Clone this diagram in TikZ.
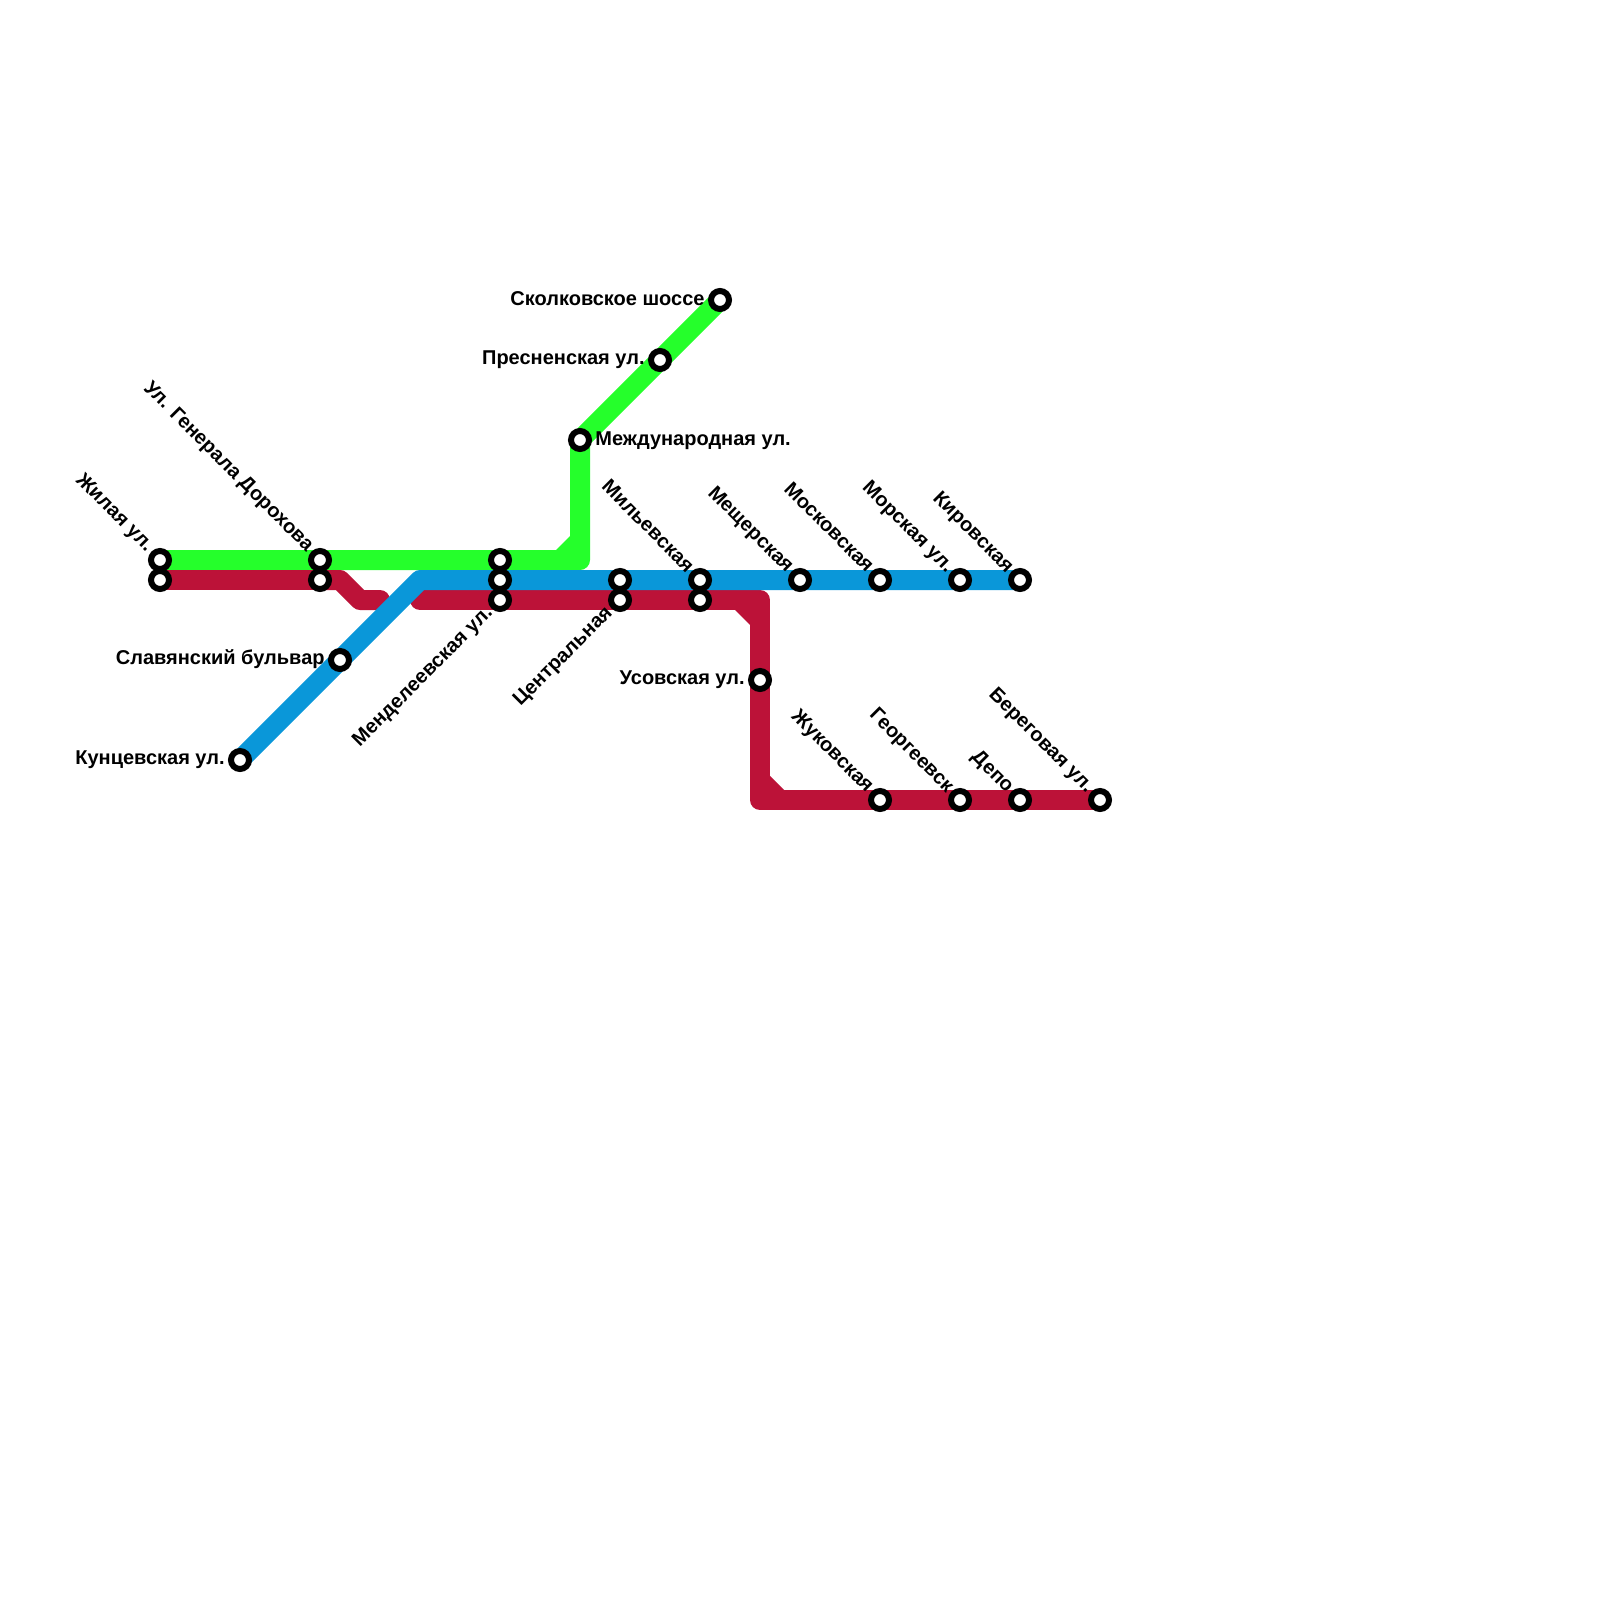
\documentclass[tikz,border=0pt]{standalone}
\usepackage{fontspec}
\setmainfont{Liberation Sans}
\tikzset{
  px/.style={x=0.5pt,y=-0.5pt},
  metro/.style={line width=10pt,line join=round},
  stn/.style={circle,draw=black,fill=white,line width=3pt,minimum size=9pt,inner sep=0pt},
  lbl/.style={font=\bfseries\fontsize{10}{11}\selectfont,inner sep=0pt,text=black,text height=7pt,text depth=2pt},
  lblL/.style={lbl,anchor=east},
  lblR/.style={lbl,anchor=west},
  lblDown/.style={lbl,anchor=east,rotate=-45},
  lblUp/.style={lbl,anchor=east,rotate=45},
}
\definecolor{gline}{HTML}{25FF2B}
\definecolor{rline}{HTML}{BC1238}
\definecolor{bline}{HTML}{0A97D9}
\begin{document}
\begin{tikzpicture}[px]
\useasboundingbox (0,0) rectangle (1600,1600);
\fill[white] (0,0) rectangle (1600,1600);
% station positions
\coordinate (zg) at (160,560); \coordinate (zr) at (160,580);
\coordinate (dg) at (320,560); \coordinate (dr) at (320,580);
\coordinate (mg) at (500,560); \coordinate (mb) at (500,580); \coordinate (mr) at (500,600);
\coordinate (cb) at (620,580); \coordinate (cr) at (620,600);
\coordinate (ib) at (700,580); \coordinate (ir) at (700,600);
\coordinate (msh) at (800,580); \coordinate (msk) at (880,580);
\coordinate (mor) at (960,580); \coordinate (kir) at (1020,580);
\coordinate (kun) at (240,760); \coordinate (sla) at (340,660);
\coordinate (uso) at (760,680); \coordinate (zhu) at (880,800);
\coordinate (geo) at (960,800); \coordinate (dep) at (1020,800);
\coordinate (ber) at (1100,800); \coordinate (int) at (580,440);
\coordinate (pre) at (660,360); \coordinate (sko) at (720,300);
% bends
\coordinate (gc) at (580,560);
\coordinate (r1) at (340,580); \coordinate (r2) at (360,600); \coordinate (r3) at (380,600);
\coordinate (r4) at (420,600); \coordinate (r5) at (760,600); \coordinate (r6) at (760,800);
\coordinate (b1) at (420,580);
% lines
\fill[gline] (555,551) -- (571,535) -- (571,551) -- cycle;
\draw[metro,gline] (zg) -- (dg) -- (mg) -- (gc) -- (int) -- (pre) -- (sko);
\fill[rline] (734,609) -- (751,609) -- (751,626) -- cycle;
\fill[rline] (769,775) -- (785,791) -- (769,791) -- cycle;
\draw[metro,rline,line cap=round] (dr) -- (r1) -- (r2) -- (r3);
\draw[metro,rline] (zr) -- (dr);
\draw[metro,rline,line cap=round] (r4) -- (mr) -- (cr) -- (ir) -- (r5) -- (uso) -- (r6) -- (zhu) -- (geo) -- (dep);
\draw[metro,rline] (dep) -- (ber);
\draw[metro,bline] (kun) -- (sla) -- (b1) -- (mb) -- (cb) -- (ib) -- (msh) -- (msk) -- (mor) -- (kir);
% stations
\foreach \s in {zg,zr,dg,dr,mg,mb,mr,cb,cr,ib,ir,msh,msk,mor,kir,kun,sla,uso,zhu,geo,dep,ber,int,pre,sko}
  \node[stn] (n\s) at (\s) {};
% labels
\node[lblL] (l1) at (705,300) {Сколковское шоссе};
\node[lblL] (l2) at (645,359) {Пресненская ул.};
\node[lblR] (l3) at (595,440) {Международная ул.};
\node[lblL] (l4) at (325,659) {Славянский бульвар};
\node[lblL] (l5) at (225,759) {Кунцевская ул.};
\node[lblL] (l6) at (745,679) {Усовская ул.};
\node[lblDown] (l7) at (150,549) {Жилая ул.};
\node[lblDown] (l8) at (310,549) {Ул. Генерала Дорохова};
\node[lblUp] (l9) at (490,610) {Менделеевская ул.};
\node[lblUp] (l10) at (610,610) {Центральная};
\node[lblDown] (l11) at (690,570) {Мильевская};
\node[lblDown] (l12) at (790,570) {Мещерская};
\node[lblDown] (l13) at (870,570) {Московская};
\node[lblDown] (l14) at (950,570) {Морская ул.};
\node[lblDown] (l15) at (1010,570) {Кировская};
\node[lblDown] (l16) at (870,790) {Жуковская};
\node[lblDown] (l17) at (950,790) {Георгеевск};
\node[lblDown] (l18) at (1010,790) {Депо};
\node[lblDown] (l19) at (1090,790) {Береговая ул.};
\end{tikzpicture}
\end{document}
